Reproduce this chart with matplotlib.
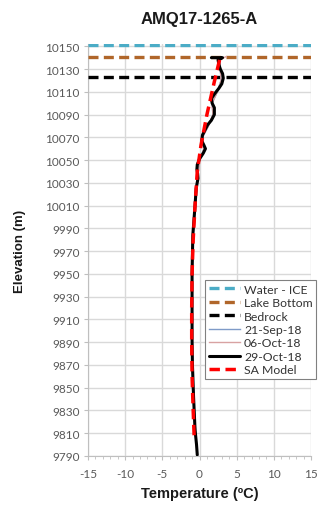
import matplotlib
matplotlib.use("Agg")
import matplotlib.pyplot as plt
from matplotlib.ticker import MultipleLocator

plt.rcParams["axes.unicode_minus"] = False

# ---------------- data ----------------
title = "AMQ17-1265-A"
water_ice = 10151
lake_bottom = 10141
bedrock = 10123

elev_oct29 = [10140, 10140, 10138, 10134, 10130, 10126, 10122, 10117, 10113, 10108,
              10104, 10100, 10096, 10090, 10085, 10081, 10076, 10072, 10067, 10063,
              10060, 10056, 10051, 10046, 10042, 10038, 10034, 10025, 10010, 9984,
              9950, 9920, 9893, 9870, 9842, 9813, 9800, 9791]
temp_oct29 = [1.6, 3.1, 2.5, 2.6, 2.8, 3.1, 3.2, 3.0, 2.6, 2.0,
              1.6, 1.7, 2.0, 2.0, 1.6, 1.1, 0.7, 0.4, 0.3, 0.6,
              0.8, 0.5, 0.0, -0.3, -0.35, -0.25, -0.2, -0.45, -0.6, -0.9,
              -1.0, -1.0, -1.0, -0.95, -0.8, -0.6, -0.4, -0.3]

elev_sep21 = [10140, 10130, 10120, 10110, 10100, 10090, 10080, 10070, 10060, 10050,
              10030, 10010, 9980, 9950, 9920, 9890, 9860, 9830, 9800]
temp_sep21 = [2.8, 2.8, 2.9, 2.4, 1.7, 1.8, 1.2, 0.4, 0.6, 0.0,
              -0.3, -0.6, -0.9, -1.0, -1.0, -1.0, -0.9, -0.7, -0.4]

elev_oct06 = [10141, 10138, 10130, 10120, 10110, 10100, 10090, 10080, 10070, 10060,
              10050, 10030, 10010, 9980, 9950, 9920, 9890, 9860, 9830, 9800]
temp_oct06 = [3.6, 2.7, 2.8, 2.9, 2.4, 1.7, 1.8, 1.2, 0.4, 0.6,
              0.0, -0.3, -0.6, -0.9, -1.0, -1.0, -1.0, -0.9, -0.7, -0.4]

elev_sa = [10138, 10119, 10090, 10063, 10040, 10010, 9980, 9950, 9920, 9890,
           9860, 9830, 9804]
temp_sa = [2.7, 2.0, 1.0, 0.2, -0.3, -0.6, -0.85, -1.0, -1.05, -1.05,
           -1.0, -0.85, -0.7]

x_ticks = [-15, -10, -5, 0, 5, 10, 15]
y_ticks = list(range(9790, 10151, 20))

# ---------------- plot ----------------
fig = plt.figure(figsize=(3.23, 5.06), dpi=100)
ax = fig.add_axes([88/323, 1-457/506, (311-88)/323, (457-45)/506])

dash = (3.0, 1.6)
ax.axhline(water_ice, color="#4bacc6", lw=2.4, dashes=dash, label="Water - ICE", zorder=3)
ax.axhline(lake_bottom, color="#b0662a", lw=2.4, dashes=dash, label="Lake Bottom", zorder=3)
ax.axhline(bedrock, color="#000000", lw=2.4, dashes=dash, label="Bedrock", zorder=3)
ax.plot(temp_sep21, elev_sep21, color="#7f9bc8", lw=1.0, label="21-Sep-18", zorder=3)
ax.plot(temp_oct06, elev_oct06, color="#d8a2a2", lw=1.0, label="06-Oct-18", zorder=3)
ax.plot(temp_oct29, elev_oct29, color="#000000", lw=2.2, label="29-Oct-18", zorder=4,
        solid_joinstyle="round", solid_capstyle="round")
ax.plot(temp_sa, elev_sa, color="#ff0000", lw=2.5, dashes=dash, label="SA Model", zorder=5)

ax.set_xlim(-15, 15)
ax.set_ylim(9790, 10152)
ax.set_xticks(x_ticks)
ax.set_yticks(y_ticks)
ax.xaxis.set_minor_locator(MultipleLocator(1))
ax.grid(True, which="major", color="#d9d9d9", lw=1.0, zorder=0)
ax.set_axisbelow(True)

for s in ["top", "right"]:
    ax.spines[s].set_visible(False)
ax.spines["left"].set_color("#bfbfbf")
ax.spines["bottom"].set_color("#bfbfbf")

ax.tick_params(axis="both", which="major", labelsize=8.5, colors="#bfbfbf",
               labelcolor="#595959", length=3, direction="out")
ax.tick_params(axis="x", which="minor", length=2, colors="#bfbfbf", direction="out")
for lbl in ax.get_xticklabels() + ax.get_yticklabels():
    lbl.set_family("Lato")
ax.tick_params(axis="x", pad=6)
ax.tick_params(axis="y", pad=3)

ax.set_title(title, fontsize=12, fontweight="bold", family="Liberation Sans",
             pad=15, color="#1a1a1a")
ax.set_xlabel("Temperature (ºC)", fontsize=10.5, fontweight="bold",
              family="Liberation Sans", color="#1a1a1a", va="center")
ax.set_ylabel("Elevation (m)", fontsize=9.5, fontweight="bold",
              family="Liberation Sans", color="#1a1a1a", va="center")
ax.xaxis.set_label_coords(0.5, (457-494)/412)
ax.yaxis.set_label_coords((20-88)/223, 0.5)

leg = ax.legend(loc="upper left", bbox_to_anchor=(205/323, 1-281/506),
                bbox_transform=fig.transFigure, borderaxespad=0,
                prop={"family": "Lato", "size": 8.8}, frameon=True, fancybox=False,
                edgecolor="#808080", framealpha=1, handlelength=2.6,
                handletextpad=0.3, labelspacing=0.2, borderpad=0.3)
leg.get_frame().set_linewidth(0.8)
for t in leg.get_texts():
    t.set_color("#333333")

fig.savefig("out.png", dpi=100)
